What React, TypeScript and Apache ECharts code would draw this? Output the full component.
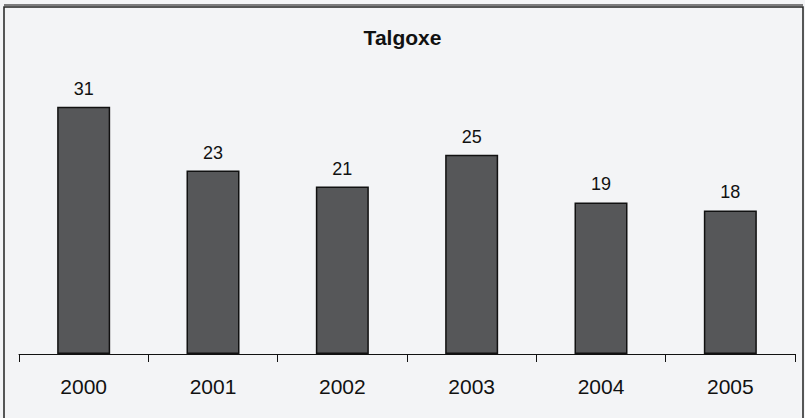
import React, { useEffect, useRef } from "react";
import * as echarts from "echarts";

const title = "Talgoxe";
const years = ["2000", "2001", "2002", "2003", "2004", "2005"];
const counts = [31, 23, 21, 25, 19, 18];

export default function App() {
  const ref = useRef<HTMLDivElement>(null);
  useEffect(() => {
    if (!ref.current) return;
    const chart = echarts.init(ref.current, undefined, { renderer: "svg" });
    chart.setOption({
      animation: false,
      backgroundColor: "#f3f4f6",
      title: {
        text: title,
        left: "center",
        top: 22,
        textStyle: { fontFamily: "Liberation Sans, Arial", fontSize: 21, fontWeight: "bold", color: "#111" },
      },
      graphic: [
        {
          type: "rect",
          shape: { x: 4, y: 7, width: 799, height: 420 },
          style: { fill: "none", stroke: "#222", lineWidth: 1.5 },
          silent: true,
        },
        {
          type: "line",
          shape: { x1: 4, y1: 5, x2: 803, y2: 5 },
          style: { stroke: "#555", lineWidth: 1.5 },
          silent: true,
        },
      ],
      grid: { left: 19, right: 10, top: 35, bottom: 64 },
      xAxis: {
        type: "category",
        data: years,
        boundaryGap: true,
        axisLine: { show: true, lineStyle: { color: "#111", width: 1 } },
        axisTick: { show: true, length: 8, lineStyle: { color: "#111" } },
        axisLabel: { margin: 22, fontSize: 21, color: "#111", fontFamily: "Liberation Sans, Arial" },
      },
      yAxis: {
        type: "value",
        min: 0,
        max: 40,
        show: false,
        splitLine: { show: false },
      },
      series: [
        {
          type: "bar",
          data: counts,
          barWidth: 53,
          itemStyle: { color: "#565759", borderColor: "#111", borderWidth: 1.5 },
          label: {
            show: true,
            position: "top",
            distance: 9,
            fontSize: 18,
            color: "#111",
            fontFamily: "Liberation Sans, Arial",
          },
        },
      ],
    });
    return () => chart.dispose();
  }, []);
  return <div ref={ref} style={{ position: "fixed", left: 0, top: 0, width: 805, height: 418 }} />;
}
